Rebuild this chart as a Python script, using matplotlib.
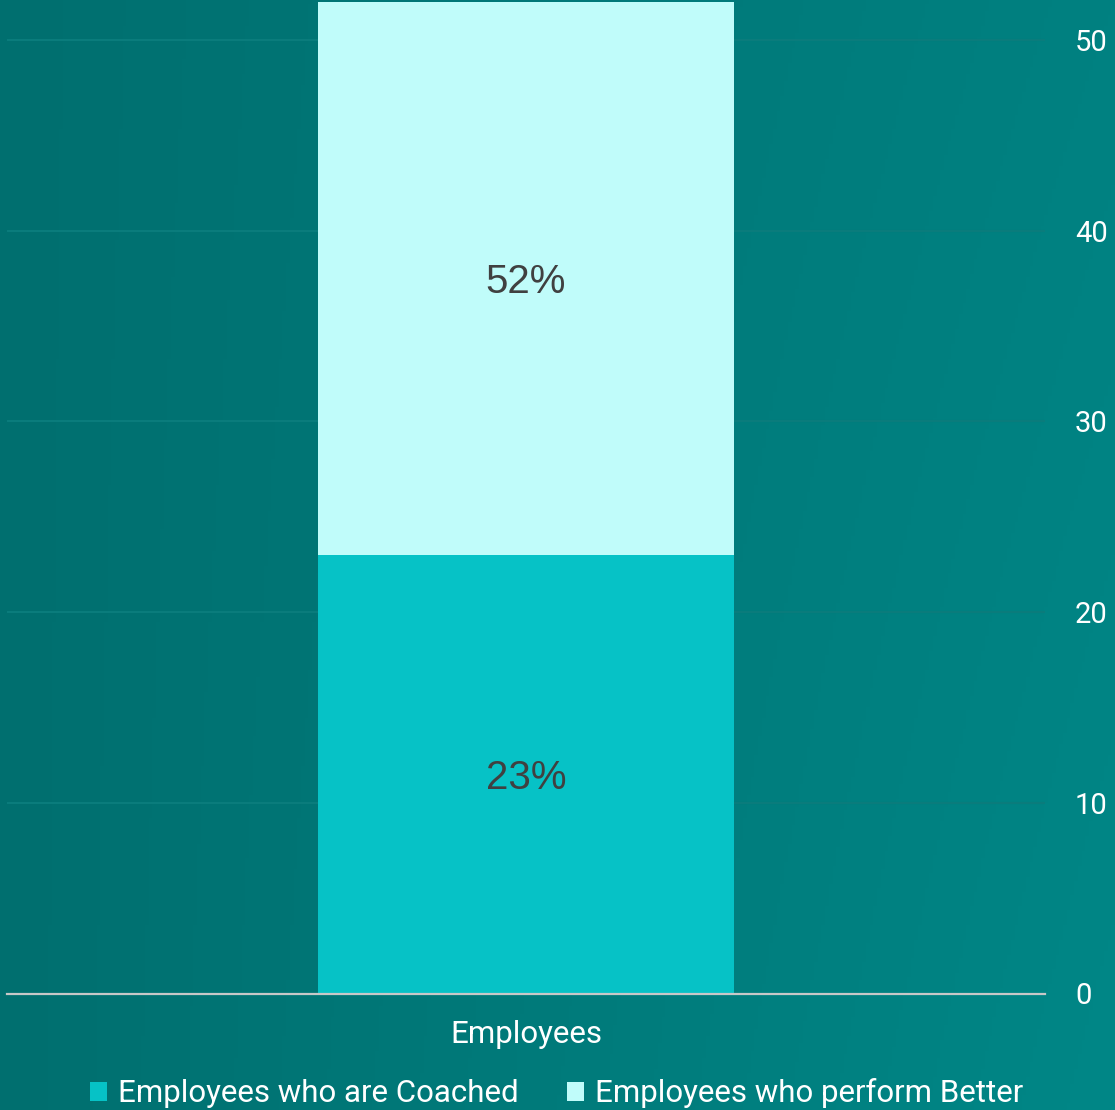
import numpy as np
import matplotlib
matplotlib.use("Agg")
import matplotlib.pyplot as plt
from matplotlib.patches import Patch
from matplotlib.colors import to_rgb

categories = ["Employees"]
series_names = ["Employees who are Coached", "Employees who perform Better"]
coached = [23]
better = [52]
label_coached = ["23%"]
label_better = ["52%"]
yticks = [0, 10, 20, 30, 40, 50]

c_coached = "#06C2C6"
c_better = "#C0FCFA"

W, H, DPI = 1115, 1110, 100
fig = plt.figure(figsize=(W / DPI, H / DPI), dpi=DPI)

# background gradient
bg = fig.add_axes([0, 0, 1, 1], zorder=-10)
bg.axis("off")
nx, ny = 300, 300
xx, yy = np.meshgrid(np.linspace(0, 1, nx), np.linspace(0, 1, ny))
t = np.clip(0.75 * xx + 0.25 * xx * yy, 0, 1)
left = np.array(to_rgb("#006F6F"))
right = np.array(to_rgb("#008787"))
img = left[None, None, :] * (1 - t[..., None]) + right[None, None, :] * t[..., None]
bg.imshow(img, aspect="auto", extent=[0, 1, 0, 1], origin="upper")
bg.set_xlim(0, 1)
bg.set_ylim(0, 1)

ax = fig.add_axes([7 / W, (H - 993.5) / H, 1038 / W, (993.5 - 2) / H])
ax.patch.set_alpha(0)
x = np.arange(len(categories))
ax.bar(x, better, width=0.4, color=c_better, zorder=2)
ax.bar(x, coached, width=0.4, color=c_coached, zorder=3)
ax.set_xlim(-0.5, 0.5)
ax.set_ylim(0, 52)

for i in range(len(categories)):
    ax.text(x[i], coached[i] / 2, label_coached[i], ha="center", va="center_baseline",
            fontsize=29, color="#404040", family="Liberation Sans", zorder=5)
    ax.text(x[i], (coached[i] + better[i]) / 2, label_better[i], ha="center",
            va="center_baseline", fontsize=29, color="#404040",
            family="Liberation Sans", zorder=5)

for s in ["top", "left", "right"]:
    ax.spines[s].set_visible(False)
ax.spines["bottom"].set_color("#C8C8C8")
ax.spines["bottom"].set_linewidth(1.6)
ax.spines["bottom"].set_zorder(6)

ax.yaxis.tick_right()
ax.set_yticks(yticks)
ax.set_yticklabels([str(v) for v in yticks], fontsize=21, color="white",
                   family="Roboto", ha="left")
ax.tick_params(axis="y", length=0, pad=21.6)
ax.grid(axis="y", color="#0A7C7C", linewidth=1.5, zorder=0)
ax.set_axisbelow(True)

ax.set_xticks(x)
ax.set_xticklabels(categories, fontsize=22.5, color="white", family="Roboto")
ax.tick_params(axis="x", length=0, pad=19)

handles = [Patch(facecolor=c_coached, edgecolor="none"),
           Patch(facecolor=c_better, edgecolor="none")]
fig.legend(handles, series_names, loc="lower center", bbox_to_anchor=(0.499, 0.0),
           ncol=2, frameon=False, prop={"family": "Roboto", "size": 22.5},
           labelcolor="white", handlelength=0.55, handleheight=0.55,
           handletextpad=0.35, columnspacing=1.55, borderpad=0.05, borderaxespad=0)

fig.savefig("out.png", dpi=DPI)
